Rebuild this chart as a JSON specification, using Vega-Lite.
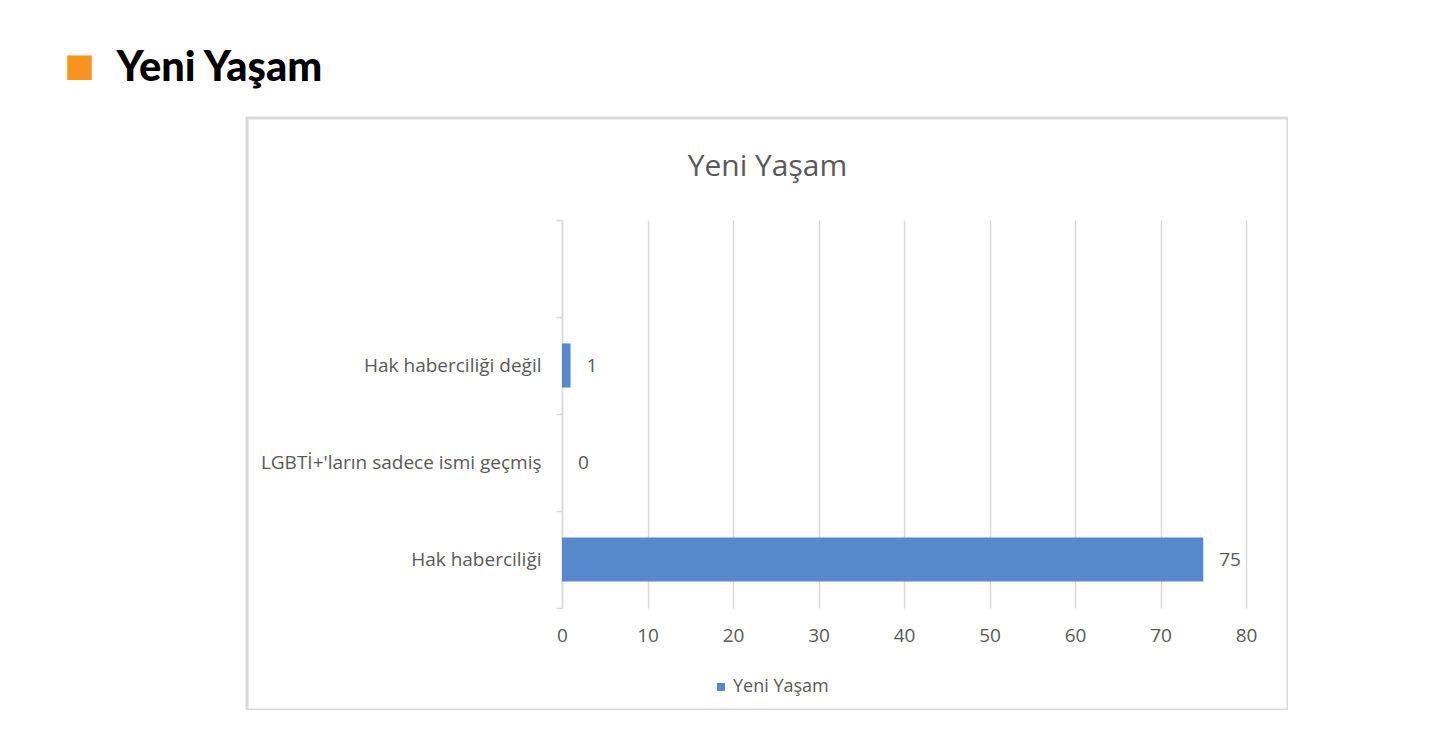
{
  "$schema": "https://vega.github.io/schema/vega-lite/v6.json",
  "width": 1041,
  "height": 592,
  "autosize": {"type": "none"},
  "padding": {"left": 247, "top": 118, "right": 0, "bottom": 0},
  "background": "white",
  "title": {
    "text": "Yeni Yaşam",
    "anchor": "middle",
    "frame": "group",
    "font": "Open Sans",
    "fontSize": 30,
    "fontWeight": "normal",
    "color": "#595959",
    "baseline": "alphabetic",
    "offset": 0,
    "dy": 159
  },
  "config": {"view": {"stroke": "#d9d9d9", "strokeWidth": 3}},
  "data": {
    "values": [
      {"kategori": "Hak haberciliği değil", "deger": 1, "seri": "Yeni Yaşam"},
      {"kategori": "LGBTİ+'ların sadece ismi geçmiş", "deger": 0, "seri": "Yeni Yaşam"},
      {"kategori": "Hak haberciliği", "deger": 75, "seri": "Yeni Yaşam"}
    ]
  },
  "encoding": {
    "y": {
      "field": "kategori",
      "type": "nominal",
      "sort": null,
      "scale": {
        "domain": ["", "Hak haberciliği değil", "LGBTİ+'ların sadece ismi geçmiş", "Hak haberciliği"],
        "range": [102, 490],
        "paddingInner": 0,
        "paddingOuter": 0
      },
      "axis": {
        "title": "Yeni Yaşam",
        "titleAngle": 0,
        "titleAlign": "left",
        "titleBaseline": "alphabetic",
        "titleX": -446,
        "titleY": -38,
        "titleFont": "Lato",
        "titleFontWeight": 900,
        "titleFontSize": 41.5,
        "titleColor": "#000000",
        "offset": -315,
        "tickBand": "extent",
        "tickSize": 6,
        "tickColor": "#d9d9d9",
        "tickWidth": 1.5,
        "domainColor": "#d9d9d9",
        "domainWidth": 1.5,
        "labelPadding": 15,
        "labelFont": "Open Sans",
        "labelFontSize": 19,
        "labelColor": "#595959",
        "labelLimit": 0,
        "grid": false
      }
    },
    "x": {
      "field": "deger",
      "type": "quantitative",
      "scale": {"domain": [0, 80], "range": [315, 999], "nice": false},
      "axis": {
        "title": "■",
        "titleColor": "#F7941D",
        "titleFont": "DejaVu Sans",
        "titleFontSize": 32,
        "titleFontWeight": "normal",
        "titleAlign": "left",
        "titleBaseline": "alphabetic",
        "titleX": -183,
        "titleY": -533,
        "offset": -102,
        "values": [0, 10, 20, 30, 40, 50, 60, 70, 80],
        "domain": false,
        "ticks": false,
        "grid": true,
        "gridColor": "#d9d9d9",
        "gridWidth": 1.5,
        "labelPadding": 18,
        "labelFont": "Open Sans",
        "labelFontSize": 19,
        "labelColor": "#595959",
        "labelFlush": false
      }
    }
  },
  "layer": [
    {
      "mark": {"type": "bar", "height": {"band": 0.455}},
      "encoding": {
        "color": {
          "field": "seri",
          "type": "nominal",
          "scale": {"range": ["#5688CE"]},
          "legend": {
            "orient": "none",
            "legendX": 465,
            "legendY": 560,
            "title": null,
            "symbolType": "square",
            "symbolSize": 64,
            "labelFont": "Open Sans",
            "labelFontSize": 18,
            "labelColor": "#595959",
            "labelOffset": 3,
            "padding": 0
          }
        }
      }
    },
    {
      "mark": {
        "type": "text",
        "align": "left",
        "dx": 16,
        "font": "Open Sans",
        "fontSize": 19,
        "color": "#595959"
      },
      "encoding": {"text": {"field": "deger", "type": "quantitative"}}
    }
  ]
}
